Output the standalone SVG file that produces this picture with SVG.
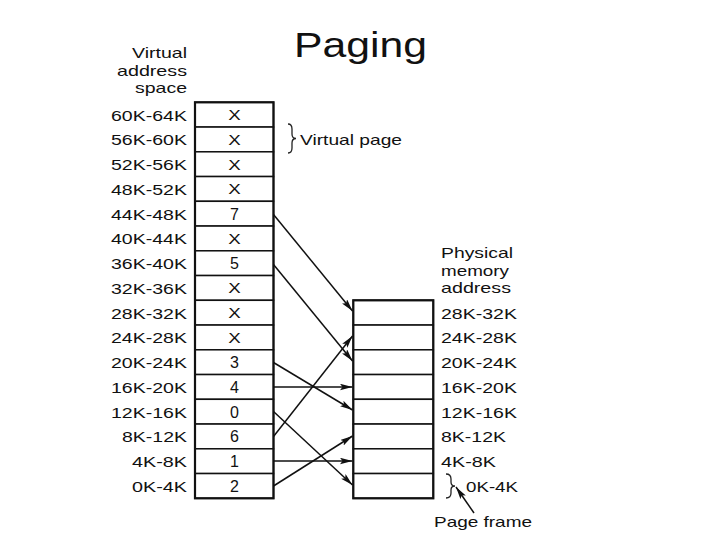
<svg xmlns="http://www.w3.org/2000/svg" width="720" height="540" viewBox="0 0 720 540">
<style>
text{font-family:"Liberation Sans",Arial,sans-serif;fill:#111}
.lbl{font-size:15.5px}
.hd{font-size:14.5px}
.cell{font-size:16px;text-anchor:middle}
.x{font-size:15px;text-anchor:middle}
.end{text-anchor:end}
.row{fill:#fff;stroke:#111;stroke-width:1.5}
.frame{fill:none;stroke:#111;stroke-width:2.2}
.conn{stroke:#111;stroke-width:1.5;fill:none;marker-end:url(#ah)}
.brace{stroke:#222;stroke-width:1.3;fill:none}
</style>
<defs>
<marker id="ah" markerUnits="userSpaceOnUse" markerWidth="14" markerHeight="8" refX="12.5" refY="3.25" orient="auto">
<path d="M0,0 L12.5,3.25 L0,6.5 L2.5,3.25 z" fill="#111"/>
</marker>
</defs>
<rect width="720" height="540" fill="#fff"/>
<text id="title" x="294" y="57" font-size="35" textLength="133" lengthAdjust="spacingAndGlyphs">Paging</text>

<g id="virtual-heading">
<text class="hd end" x="187" y="58" textLength="55" lengthAdjust="spacingAndGlyphs">Virtual</text>
<text class="hd end" x="187" y="76" textLength="70" lengthAdjust="spacingAndGlyphs">address</text>
<text class="hd end" x="187" y="93" textLength="52" lengthAdjust="spacingAndGlyphs">space</text>
</g>

<g id="virtual-labels">
<text class="lbl end" x="187" y="120.7" textLength="76" lengthAdjust="spacingAndGlyphs">60K-64K</text>
<text class="lbl end" x="187" y="145.4" textLength="76" lengthAdjust="spacingAndGlyphs">56K-60K</text>
<text class="lbl end" x="187" y="170.2" textLength="76" lengthAdjust="spacingAndGlyphs">52K-56K</text>
<text class="lbl end" x="187" y="194.9" textLength="76" lengthAdjust="spacingAndGlyphs">48K-52K</text>
<text class="lbl end" x="187" y="219.7" textLength="76" lengthAdjust="spacingAndGlyphs">44K-48K</text>
<text class="lbl end" x="187" y="244.4" textLength="76" lengthAdjust="spacingAndGlyphs">40K-44K</text>
<text class="lbl end" x="187" y="269.2" textLength="76" lengthAdjust="spacingAndGlyphs">36K-40K</text>
<text class="lbl end" x="187" y="293.9" textLength="76" lengthAdjust="spacingAndGlyphs">32K-36K</text>
<text class="lbl end" x="187" y="318.7" textLength="76" lengthAdjust="spacingAndGlyphs">28K-32K</text>
<text class="lbl end" x="187" y="343.4" textLength="76" lengthAdjust="spacingAndGlyphs">24K-28K</text>
<text class="lbl end" x="187" y="368.2" textLength="76" lengthAdjust="spacingAndGlyphs">20K-24K</text>
<text class="lbl end" x="187" y="392.9" textLength="76" lengthAdjust="spacingAndGlyphs">16K-20K</text>
<text class="lbl end" x="187" y="417.7" textLength="76" lengthAdjust="spacingAndGlyphs">12K-16K</text>
<text class="lbl end" x="187" y="442.4" textLength="65" lengthAdjust="spacingAndGlyphs">8K-12K</text>
<text class="lbl end" x="187" y="467.2" textLength="55" lengthAdjust="spacingAndGlyphs">4K-8K</text>
<text class="lbl end" x="187" y="491.9" textLength="55" lengthAdjust="spacingAndGlyphs">0K-4K</text>
</g>

<g id="virtual-table">
<rect class="row" x="195" y="102.3" width="78.5" height="24.75"/>
<rect class="row" x="195" y="127.05" width="78.5" height="24.75"/>
<rect class="row" x="195" y="151.8" width="78.5" height="24.75"/>
<rect class="row" x="195" y="176.55" width="78.5" height="24.75"/>
<rect class="row" x="195" y="201.3" width="78.5" height="24.75"/>
<rect class="row" x="195" y="226.05" width="78.5" height="24.75"/>
<rect class="row" x="195" y="250.8" width="78.5" height="24.75"/>
<rect class="row" x="195" y="275.55" width="78.5" height="24.75"/>
<rect class="row" x="195" y="300.3" width="78.5" height="24.75"/>
<rect class="row" x="195" y="325.05" width="78.5" height="24.75"/>
<rect class="row" x="195" y="349.8" width="78.5" height="24.75"/>
<rect class="row" x="195" y="374.55" width="78.5" height="24.75"/>
<rect class="row" x="195" y="399.3" width="78.5" height="24.75"/>
<rect class="row" x="195" y="424.05" width="78.5" height="24.75"/>
<rect class="row" x="195" y="448.8" width="78.5" height="24.75"/>
<rect class="row" x="195" y="473.55" width="78.5" height="24.75"/>
<rect class="frame" x="195" y="102.3" width="78.5" height="396"/>
<text class="x" x="234.5" y="120" textLength="12.5" lengthAdjust="spacingAndGlyphs">X</text>
<text class="x" x="234.5" y="144.7" textLength="12.5" lengthAdjust="spacingAndGlyphs">X</text>
<text class="x" x="234.5" y="169.5" textLength="12.5" lengthAdjust="spacingAndGlyphs">X</text>
<text class="x" x="234.5" y="194.2" textLength="12.5" lengthAdjust="spacingAndGlyphs">X</text>
<text class="cell" x="234.5" y="219.5">7</text>
<text class="x" x="234.5" y="243.7" textLength="12.5" lengthAdjust="spacingAndGlyphs">X</text>
<text class="cell" x="234.5" y="269">5</text>
<text class="x" x="234.5" y="293.2" textLength="12.5" lengthAdjust="spacingAndGlyphs">X</text>
<text class="x" x="234.5" y="318" textLength="12.5" lengthAdjust="spacingAndGlyphs">X</text>
<text class="x" x="234.5" y="342.7" textLength="12.5" lengthAdjust="spacingAndGlyphs">X</text>
<text class="cell" x="234.5" y="368">3</text>
<text class="cell" x="234.5" y="392.7">4</text>
<text class="cell" x="234.5" y="417.5">0</text>
<text class="cell" x="234.5" y="442.2">6</text>
<text class="cell" x="234.5" y="467">1</text>
<text class="cell" x="234.5" y="491.7">2</text>
</g>

<g id="virtual-page-label">
<path class="brace" d="M288,124 Q292,124 292,129 L292,134 Q292,138.5 296,138.5 Q292,138.5 292,143 L292,148 Q292,153 288,153"/>
<text class="hd" x="300" y="145" textLength="102" lengthAdjust="spacingAndGlyphs">Virtual page</text>
</g>

<g id="physical-heading">
<text class="hd" x="441" y="258" textLength="72" lengthAdjust="spacingAndGlyphs">Physical</text>
<text class="hd" x="441" y="276" textLength="68" lengthAdjust="spacingAndGlyphs">memory</text>
<text class="hd" x="441" y="293" textLength="70" lengthAdjust="spacingAndGlyphs">address</text>
</g>

<g id="physical-table">
<rect class="row" x="353.3" y="300.3" width="80" height="24.75"/>
<rect class="row" x="353.3" y="325.05" width="80" height="24.75"/>
<rect class="row" x="353.3" y="349.8" width="80" height="24.75"/>
<rect class="row" x="353.3" y="374.55" width="80" height="24.75"/>
<rect class="row" x="353.3" y="399.3" width="80" height="24.75"/>
<rect class="row" x="353.3" y="424.05" width="80" height="24.75"/>
<rect class="row" x="353.3" y="448.8" width="80" height="24.75"/>
<rect class="row" x="353.3" y="473.55" width="80" height="24.75"/>
<rect class="frame" x="353.3" y="300.3" width="80" height="198"/>
</g>

<g id="physical-labels">
<text class="lbl" x="441" y="318.7" textLength="76" lengthAdjust="spacingAndGlyphs">28K-32K</text>
<text class="lbl" x="441" y="343.4" textLength="76" lengthAdjust="spacingAndGlyphs">24K-28K</text>
<text class="lbl" x="441" y="368.2" textLength="76" lengthAdjust="spacingAndGlyphs">20K-24K</text>
<text class="lbl" x="441" y="392.9" textLength="76" lengthAdjust="spacingAndGlyphs">16K-20K</text>
<text class="lbl" x="441" y="417.7" textLength="76" lengthAdjust="spacingAndGlyphs">12K-16K</text>
<text class="lbl" x="441" y="442.4" textLength="65" lengthAdjust="spacingAndGlyphs">8K-12K</text>
<text class="lbl" x="441" y="467.2" textLength="55" lengthAdjust="spacingAndGlyphs">4K-8K</text>
<text class="lbl" x="466" y="491.7" textLength="52" lengthAdjust="spacingAndGlyphs">0K-4K</text>
</g>

<g id="page-frame-label">
<path class="brace" d="M446,474 Q451,474 451,479 L451,482 Q451,486 455,486 Q451,486 451,490 L451,493 Q451,498 446,498"/>
<line class="conn" x1="474" y1="513" x2="456" y2="487"/>
<text class="hd" x="434" y="527" textLength="98" lengthAdjust="spacingAndGlyphs">Page frame</text>
</g>

<g id="connectors">
<line class="conn" x1="273.5" y1="214.5" x2="352.5" y2="311"/>
<line class="conn" x1="273.5" y1="264.5" x2="352.5" y2="361"/>
<line class="conn" x1="273.5" y1="362.5" x2="352.5" y2="410"/>
<line class="conn" x1="273.5" y1="387" x2="352.5" y2="387"/>
<line class="conn" x1="273.5" y1="411.5" x2="352.5" y2="485"/>
<line class="conn" x1="273.5" y1="436.5" x2="352.5" y2="336"/>
<line class="conn" x1="273.5" y1="461" x2="352.5" y2="461"/>
<line class="conn" x1="273.5" y1="486" x2="352.5" y2="436"/>
</g>
</svg>
